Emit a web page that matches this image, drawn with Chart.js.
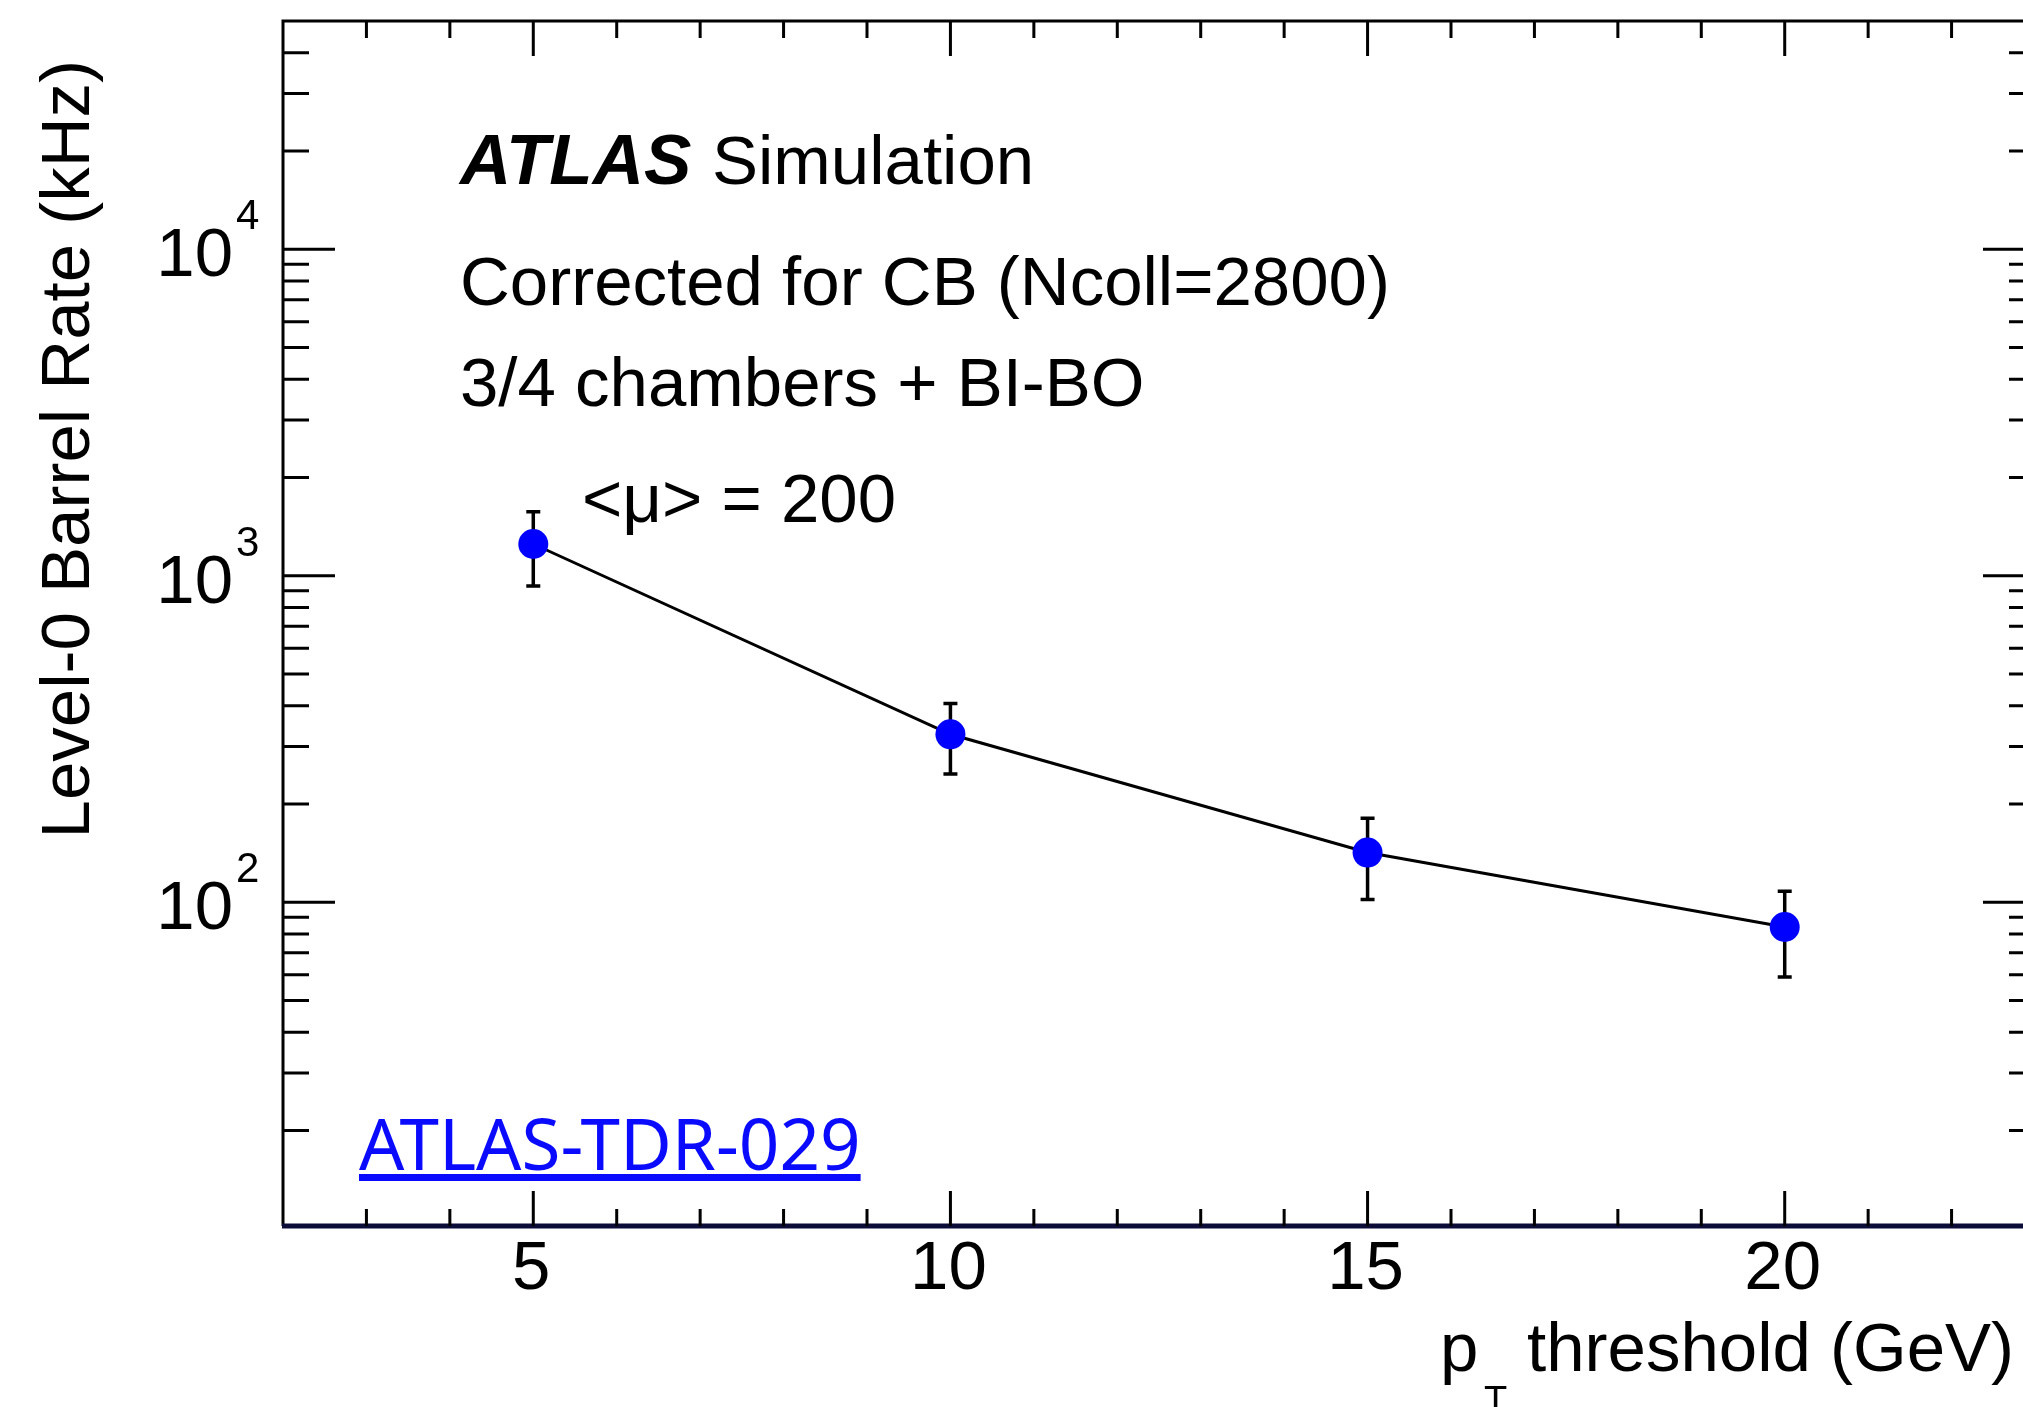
<!DOCTYPE html>
<html>
<head>
<meta charset="utf-8">
<script src="https://cdn.jsdelivr.net/npm/chart.js@4.4.0/dist/chart.umd.min.js"></script>
<style>
  html, body { margin: 0; padding: 0; background: #fff; overflow: hidden; }
  canvas { display: block; }
</style>
</head>
<body>
<canvas id="rateChart" width="2050" height="1407"></canvas>
<script>
// ===== Data =====
const thresholds = [5, 10, 15, 20];        // pT threshold (GeV)
const rates = [1251, 327, 142, 84];        // Level-0 barrel rate (kHz)
const rateHigh = [1570, 406, 181, 108];    // top of error bar
const rateLow = [930, 247, 102, 59];       // bottom of error bar
const xRange = [2, 23];
const yRange = [10.2, 50000];
const yDecades = [1, 2, 3, 4];

const FONT = '"Liberation Sans", Arial, Helvetica, sans-serif';

// ===== ROOT-style frame, ticks, labels =====
const rootFrame = {
  id: 'rootFrame',
  beforeDatasetsDraw(chart) {
    // error bars go under the markers
    const ctx = chart.ctx;
    const xs = chart.scales.x, ys = chart.scales.y;
    ctx.save();
    ctx.strokeStyle = '#000';
    ctx.lineWidth = 3.5;
    thresholds.forEach((t, i) => {
      const px = xs.getPixelForValue(t);
      const yHi = ys.getPixelForValue(rateHigh[i]);
      const yLo = ys.getPixelForValue(rateLow[i]);
      ctx.beginPath();
      ctx.moveTo(px, yHi); ctx.lineTo(px, yLo);
      ctx.moveTo(px - 7, yHi); ctx.lineTo(px + 7, yHi);
      ctx.moveTo(px - 7, yLo); ctx.lineTo(px + 7, yLo);
      ctx.stroke();
    });
    ctx.restore();
  },
  afterDraw(chart) {
    const ctx = chart.ctx;
    const { left, right, top, bottom } = chart.chartArea;
    const xs = chart.scales.x, ys = chart.scales.y;
    ctx.save();

    // frame
    ctx.strokeStyle = '#000';
    ctx.lineWidth = 3;
    ctx.beginPath();
    ctx.moveTo(left, bottom); ctx.lineTo(left, top);
    ctx.lineTo(right, top); ctx.lineTo(right, bottom);
    ctx.stroke();
    ctx.strokeStyle = '#0c0c38';
    ctx.lineWidth = 5;
    ctx.beginPath();
    ctx.moveTo(left - 1, bottom); ctx.lineTo(right + 1, bottom);
    ctx.stroke();

    // x ticks (inside, bottom and top)
    ctx.strokeStyle = '#000';
    ctx.lineWidth = 3;
    ctx.beginPath();
    for (let v = xRange[0] + 1; v < xRange[1]; v++) {
      const px = xs.getPixelForValue(v);
      const len = v % 5 === 0 ? 35 : 17;
      ctx.moveTo(px, bottom); ctx.lineTo(px, bottom - len);
      ctx.moveTo(px, top); ctx.lineTo(px, top + len);
    }
    // y ticks (inside, left and right)
    yDecades.forEach(e => {
      for (let m = 1; m <= 9; m++) {
        const v = m * Math.pow(10, e);
        if (v <= yRange[0] || v >= yRange[1]) continue;
        const py = ys.getPixelForValue(v);
        const len = m === 1 ? 52 : 26;
        ctx.moveTo(left, py); ctx.lineTo(left + len, py);
        ctx.moveTo(right, py); ctx.lineTo(right - len, py);
      }
    });
    ctx.stroke();

    // x tick labels
    ctx.fillStyle = '#000';
    ctx.font = `69px ${FONT}`;
    ctx.textAlign = 'center';
    ctx.textBaseline = 'alphabetic';
    [5, 10, 15, 20].forEach(v => {
      ctx.fillText(String(v), xs.getPixelForValue(v) - 2, bottom + 63);
    });

    // y tick labels: 10^n
    yDecades.slice(1).forEach(e => {
      const py = ys.getPixelForValue(Math.pow(10, e));
      ctx.font = `69px ${FONT}`;
      ctx.textAlign = 'right';
      ctx.fillText('10', left - 50, py + 27);
      ctx.font = `42px ${FONT}`;
      ctx.textAlign = 'left';
      ctx.fillText(String(e), left - 47, py - 20);
    });

    // x title: p_T threshold (GeV)
    ctx.textAlign = 'left';
    ctx.font = `69px ${FONT}`;
    ctx.fillText('p', 1440, 1371);
    ctx.font = `38px ${FONT}`;
    ctx.fillText('T', 1484, 1413);
    ctx.font = `69px ${FONT}`;
    ctx.fillText('threshold (GeV)', 1527, 1371);

    // y title
    ctx.save();
    ctx.translate(89, 60);
    ctx.rotate(-Math.PI / 2);
    ctx.textAlign = 'right';
    ctx.font = `69px ${FONT}`;
    ctx.fillText('Level-0 Barrel Rate (kHz)', 0, 0);
    ctx.restore();

    // labels inside the frame
    ctx.textAlign = 'left';
    ctx.font = `italic bold 71px ${FONT}`;
    ctx.fillText('ATLAS', 460, 184);
    ctx.font = `69px ${FONT}`;
    ctx.fillText('Simulation', 712, 184);
    ctx.fillText('Corrected for CB (Ncoll=2800)', 460, 305);
    ctx.fillText('3/4 chambers + BI-BO', 460, 406);
    ctx.fillText('<\u03bc> = 200', 582, 522);

    // document reference, link style
    ctx.fillStyle = '#0a0aff';
    ctx.font = `71px "Noto Sans", sans-serif`;
    ctx.fillText('ATLAS-TDR-029', 359, 1170);
    const w = ctx.measureText('ATLAS-TDR-029').width;
    ctx.fillRect(359, 1174, w, 7);

    ctx.restore();
  }
};

new Chart(document.getElementById('rateChart'), {
  type: 'line',
  data: {
    datasets: [{
      label: 'Level-0 barrel rate',
      data: thresholds.map((t, i) => ({ x: t, y: rates[i] })),
      borderColor: '#000',
      borderWidth: 3,
      tension: 0,
      pointRadius: 15,
      pointHoverRadius: 15,
      pointBorderWidth: 0,
      pointBackgroundColor: '#0000ff',
      pointBorderColor: '#0000ff'
    }]
  },
  options: {
    responsive: false,
    devicePixelRatio: 1,
    animation: false,
    events: [],
    layout: { padding: { left: 283, top: 21, right: 13, bottom: 181 } },
    scales: {
      x: { type: 'linear', min: xRange[0], max: xRange[1], display: false },
      y: { type: 'logarithmic', min: yRange[0], max: yRange[1], display: false }
    },
    plugins: {
      legend: { display: false },
      tooltip: { enabled: false }
    }
  },
  plugins: [rootFrame]
});
</script>
</body>
</html>
